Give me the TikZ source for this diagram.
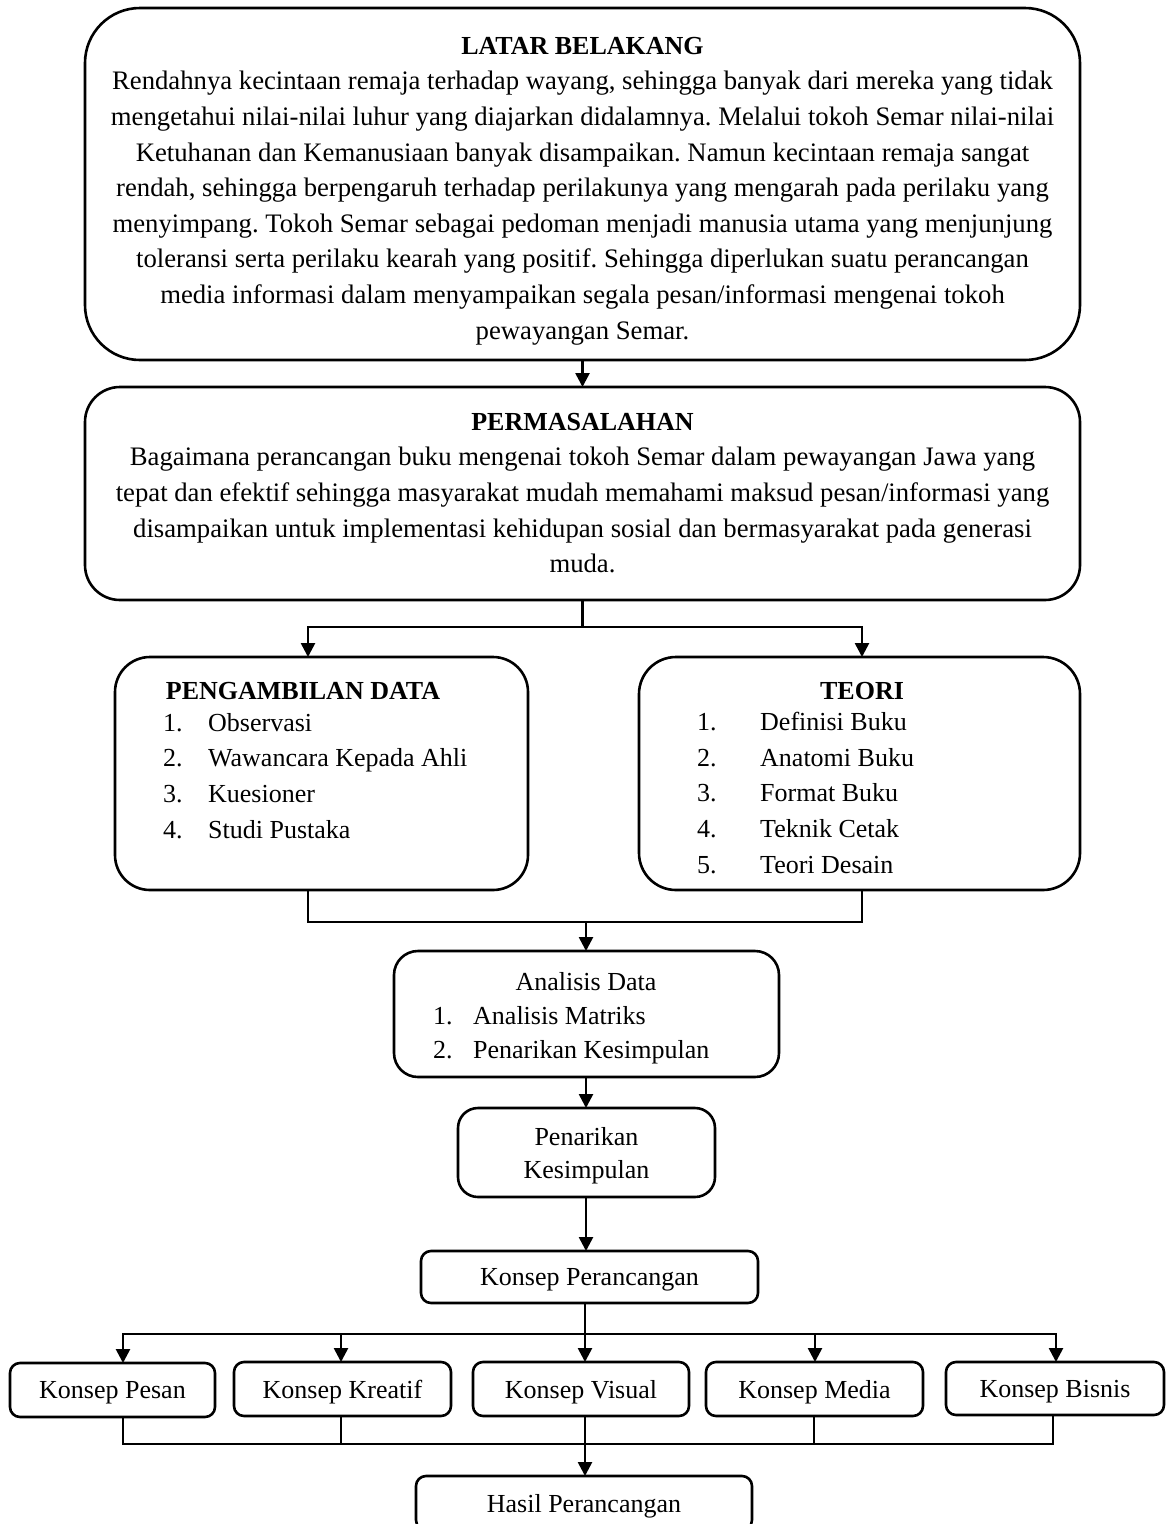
\documentclass[tikz,border=0pt]{standalone}
\usepackage{fontspec}
\setmainfont{Liberation Serif}
\usetikzlibrary{arrows.meta}
\frenchspacing
\begin{document}
\frenchspacing
\begin{tikzpicture}[x=1pt,y=-1pt,
  box/.style={draw, line width=2.6pt, inner sep=0pt, outer sep=0pt, rounded corners=#1, anchor=north west, align=center, text depth=0pt, font=\fontsize{26}{33}\selectfont},
  box/.default=10,
  txt/.style={font=\fontsize{26.7}{35.6}\selectfont, inner sep=0pt, align=center},
  lst/.style={font=\fontsize{26}{35.7}\selectfont, inner sep=0pt, align=left, anchor=west},
  conn/.style={line width=2.6pt},
  arr/.style={conn, -{Triangle[width=14pt,length=14pt]}}]
\useasboundingbox (0,0) rectangle (1168,1524);
\clip (0,0) rectangle (1168,1524);

% boxes
\node[box=55, minimum width=995, minimum height=352] (latar) at (85,8) {};
\node[box=35, minimum width=995, minimum height=213] (perm) at (85,387) {};
\node[box=35, minimum width=413, minimum height=233] (ambil) at (115,657) {};
\node[box=37, minimum width=441, minimum height=233] (teori) at (639,657) {};
\node[box=24, minimum width=385, minimum height=126] (anal) at (394,951) {};
\node[box=20, minimum width=257, minimum height=89] (tarik) at (458,1108) {Penarikan\\Kesimpulan};
\node[box=10, minimum width=337, minimum height=52] (kp) at (421,1251) {Konsep Perancangan};
\node[box=10, minimum width=205, minimum height=54] (pesan) at (10,1363) {Konsep Pesan};
\node[box=10, minimum width=217, minimum height=54] (kreatif) at (234,1362) {Konsep Kreatif};
\node[box=10, minimum width=216, minimum height=54] (visual) at (473,1362) {Konsep Visual};
\node[box=10, minimum width=217, minimum height=54] (media) at (706,1362) {Konsep Media};
\node[box=10, minimum width=218, minimum height=53] (bisnis) at (946,1362) {Konsep Bisnis};
\node[box=10, minimum width=336, minimum height=54] (hasil) at (416,1476) {Hasil Perancangan};

% texts
\node[txt] (latarT) at (582.5,191) {\textbf{\fontsize{26}{35.6}\selectfont LATAR BELAKANG}\\
Rendahnya kecintaan remaja terhadap wayang, sehingga banyak dari mereka yang tidak\\
mengetahui nilai-nilai luhur yang diajarkan didalamnya. Melalui tokoh Semar nilai-nilai\\
Ketuhanan dan Kemanusiaan banyak disampaikan. Namun kecintaan remaja sangat\\
rendah, sehingga berpengaruh terhadap perilakunya yang mengarah pada perilaku yang\\
menyimpang. Tokoh Semar sebagai pedoman menjadi manusia utama yang menjunjung\\
toleransi serta perilaku kearah yang positif. Sehingga diperlukan suatu perancangan\\
media informasi dalam menyampaikan segala pesan/informasi mengenai tokoh\\
pewayangan Semar.};
\node[txt] (permT) at (582.5,493) {\textbf{\fontsize{26}{35.6}\selectfont PERMASALAHAN}\\
Bagaimana perancangan buku mengenai tokoh Semar dalam pewayangan Jawa yang\\
tepat dan efektif sehingga masyarakat mudah memahami maksud pesan/informasi yang\\
disampaikan untuk implementasi kehidupan sosial dan bermasyarakat pada generasi\\
muda.};
\node[txt, font=\fontsize{26}{35.6}\selectfont] (ambilT) at (303,691) {\textbf{PENGAMBILAN DATA}};
\node[lst] (ambilL) at (163,776) {\makebox[45pt][l]{1.}Observasi\\
\makebox[45pt][l]{2.}Wawancara Kepada Ahli\\
\makebox[45pt][l]{3.}Kuesioner\\
\makebox[45pt][l]{4.}Studi Pustaka};
\node[txt, font=\fontsize{26}{35.6}\selectfont] (teoriT) at (862,691) {\textbf{TEORI}};
\node[lst] (teoriL) at (697,793) {\makebox[63pt][l]{1.}Definisi Buku\\
\makebox[63pt][l]{2.}Anatomi Buku\\
\makebox[63pt][l]{3.}Format Buku\\
\makebox[63pt][l]{4.}Teknik Cetak\\
\makebox[63pt][l]{5.}Teori Desain};
\node[txt, font=\fontsize{26}{35.6}\selectfont] (analT) at (586,982) {Analisis Data};
\node[lst, font=\fontsize{26}{34}\selectfont] (analL) at (433,1035) {\makebox[40pt][l]{1.}Analisis Matriks\\
\makebox[40pt][l]{2.}Penarikan Kesimpulan};

% connectors
\coordinate (jm) at (582.5,627);
\coordinate (j1) at (308,627);
\coordinate (j2) at (862,627);
\coordinate (jb) at (586,922);
\coordinate (vx) at (585,1334);
\coordinate (t1) at (123,1334);
\coordinate (t2) at (341,1334);
\coordinate (t4) at (815,1334);
\coordinate (t5) at (1056,1334);
\coordinate (b1) at (123,1444);
\coordinate (b2) at (341,1444);
\coordinate (b4) at (814,1444);
\coordinate (b5) at (1053,1444);

\draw[arr] (latar.south) -- (perm.north);
\draw[conn] (perm.south) -- (jm);
\draw[arr] (jm) -| (j1 |- ambil.north);
\draw[arr] (jm) -| (j2 |- teori.north);
\draw[conn] (j1 |- ambil.south) |- (jb) -| (j2 |- teori.south);
\draw[arr] (jb) -- (jb |- anal.north);
\draw[arr] (jb |- anal.south) -- (jb |- tarik.north);
\draw[arr] (jb |- tarik.south) -- (jb |- kp.north);
\draw[arr] (vx |- kp.south) -- (vx |- visual.north);
\draw[arr] (vx) -| (t1 |- pesan.north);
\draw[arr] (t2) -- (t2 |- kreatif.north);
\draw[arr] (vx) -| (t5 |- bisnis.north);
\draw[arr] (t4) -- (t4 |- media.north);
\draw[conn] (b1 |- pesan.south) |- (b5) -- (b5 |- bisnis.south);
\draw[conn] (b2 |- kreatif.south) -- (b2);
\draw[conn] (b4 |- media.south) -- (b4);
\draw[arr] (vx |- visual.south) -- (vx |- hasil.north);
\end{tikzpicture}
\end{document}
